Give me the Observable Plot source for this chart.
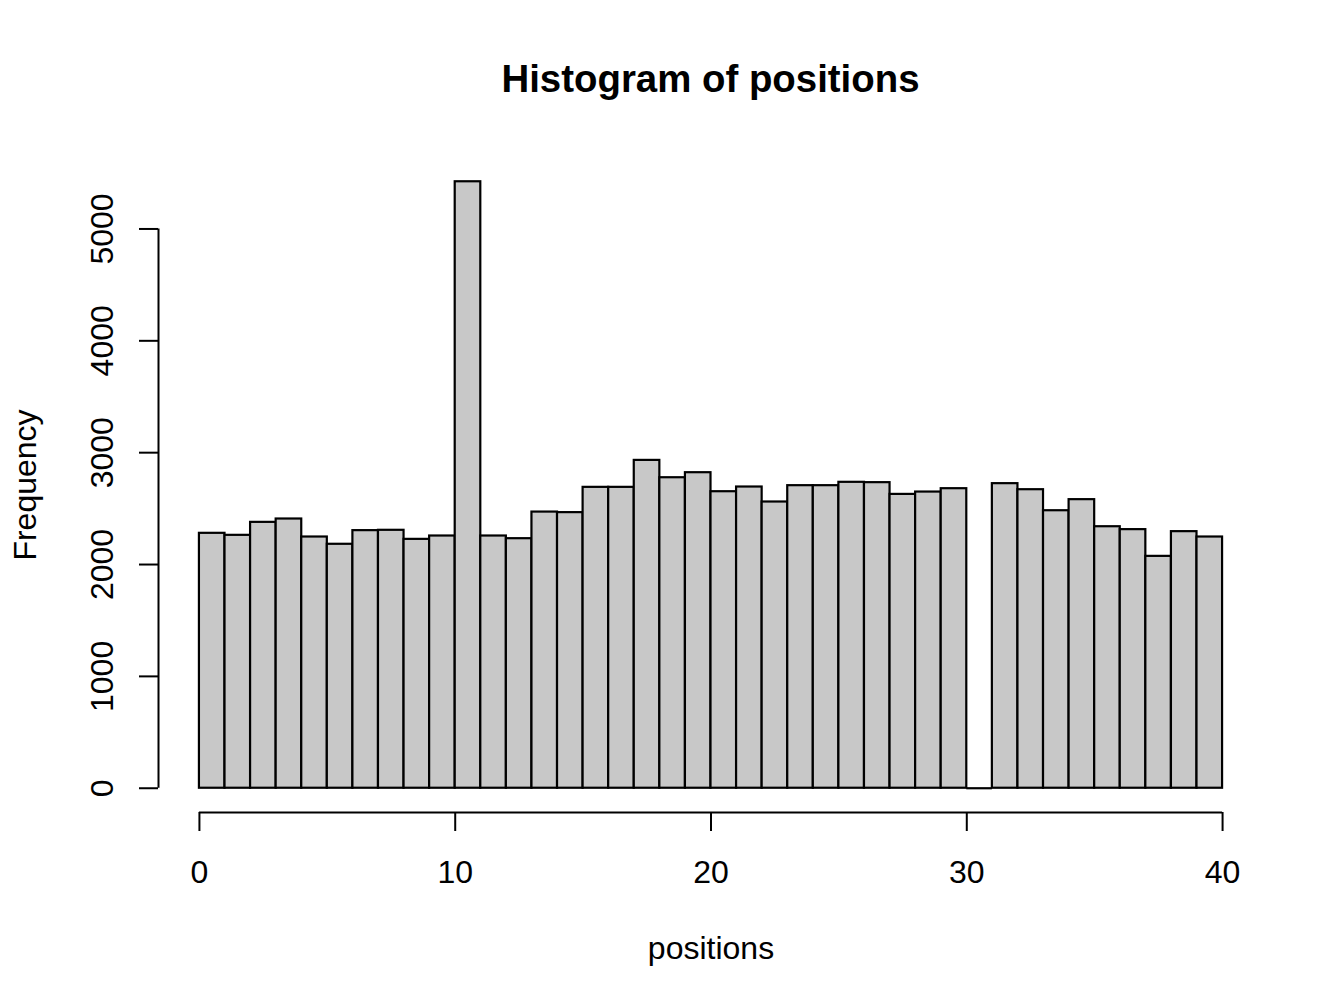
<!DOCTYPE html>
<html>
<head>
<meta charset="utf-8">
<script src="https://cdn.jsdelivr.net/npm/d3@7"></script>
<script src="https://cdn.jsdelivr.net/npm/@observablehq/plot@0.6"></script>
<style>
  body { margin: 0; background: #fff; }
  #title { position: relative; width: 1344px; height: 120px; font-family: "Liberation Sans", Arial, Helvetica, sans-serif; }
  #title span { position: absolute; left: 0; top: 60px; width: 1421px; text-align: center; font-weight: bold; font-size: 38.4px; line-height: 38.4px; color: #000; }
  #chart svg { display: block; }
</style>
</head>
<body>
<div id="title"><span>Histogram of positions</span></div>
<div id="chart"></div>
<script>
// Bin edges (width 1) and counts
const binEdges = [0,1,2,3,4,5,6,7,8,9,10,11,12,13,14,15,16,17,18,19,20,21,22,23,24,25,26,27,28,29,30,31,32,33,34,35,36,37,38,39,40];
const counts = [2279, 2261, 2377, 2407, 2246, 2181, 2303, 2306, 2225, 2255,
                5422, 2255, 2231, 2469, 2464, 2690, 2690, 2931, 2776, 2821,
                2651, 2693, 2559, 2705, 2705, 2735, 2732, 2627, 2648, 2678,
                0,    2723, 2669, 2481, 2580, 2338, 2312, 2073, 2294, 2246];
const xTicks = [0, 10, 20, 30, 40];
const yTicks = [0, 1000, 2000, 3000, 4000, 5000];
const xLabel = "positions";
const yLabel = "Frequency";

const bins = counts.map((c, i) => ({x1: binEdges[i], x2: binEdges[i + 1], count: c}));

// R-style 4% axis extension
const xMin = binEdges[0], xMax = binEdges[binEdges.length - 1];
const xPad = (xMax - xMin) * 0.04;
const yMax = d3.max(counts);
const yPad = yMax * 0.04;

const plot = Plot.plot({
  width: 1344,
  height: 888,
  marginLeft: 158,
  marginRight: 81,
  marginTop: 37,
  marginBottom: 196,
  x: {domain: [xMin - xPad, xMax + xPad]},
  y: {domain: [-yPad, yMax + yPad]},
  style: {fontFamily: "Liberation Sans, Arial, Helvetica, sans-serif", fontSize: "32px", background: "white", color: "black", overflow: "visible"},
  marks: [
    Plot.rectY(bins, {x1: "x1", x2: "x2", y1: 0, y2: "count", fill: "#c8c8c8", stroke: "black", strokeWidth: 2.2, inset: 0}),
    Plot.ruleY(bins.filter(d => d.count === 0), {x1: "x1", x2: "x2", y: 0, stroke: "black", strokeWidth: 2.2}),
    // axis lines
    Plot.ruleY([-yPad], {x1: d3.min(xTicks), x2: d3.max(xTicks), stroke: "black", strokeWidth: 2}),
    Plot.ruleX([xMin - xPad], {y1: d3.min(yTicks), y2: d3.max(yTicks), stroke: "black", strokeWidth: 2}),
    Plot.axisX({ticks: xTicks, tickSize: 19, tickPadding: 29, tickFormat: d => String(d), label: null, strokeWidth: 2, strokeOpacity: 1}),
    Plot.axisY({ticks: yTicks, tickSize: 19, tickPadding: 27, tickRotate: -90, tickFormat: d => String(d), label: null, strokeWidth: 2, strokeOpacity: 1}),
    Plot.text([yLabel], {frameAnchor: "left", textAnchor: "middle", rotate: -90, dx: -133, fill: "black"}),
    Plot.text([xLabel], {frameAnchor: "bottom", dy: 146, fill: "black"})
  ]
});
document.getElementById("chart").appendChild(plot);
</script>
</body>
</html>
